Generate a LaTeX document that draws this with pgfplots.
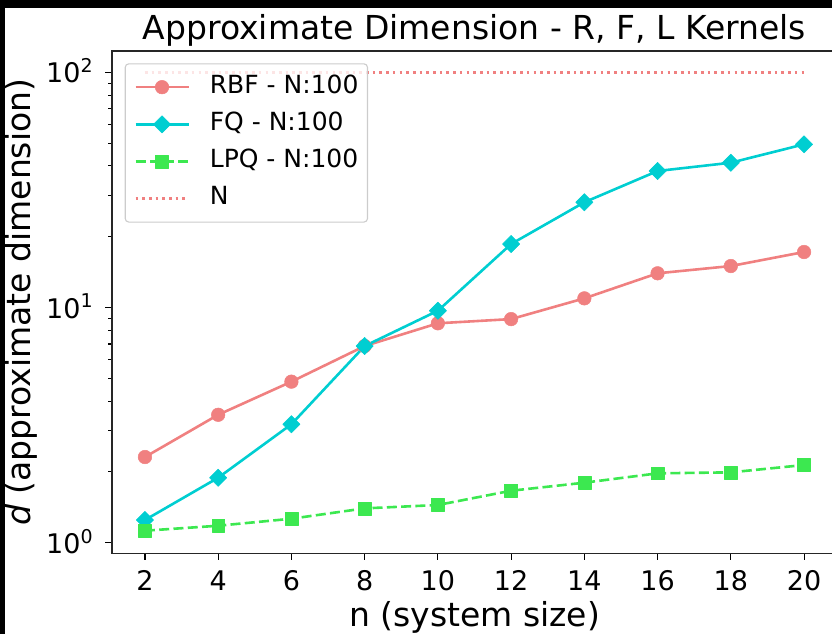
\documentclass[border=0pt]{standalone}
\usepackage{fontspec}
\setmainfont{DejaVu Sans}
\usepackage{pgfplots}
\pgfplotsset{compat=1.18}
\definecolor{rbfcol}{HTML}{F08080}
\definecolor{fqcol}{HTML}{00CED1}
\definecolor{lpqcol}{HTML}{3CE850}
\newcommand{\tenpow}[1]{10\raisebox{0.38em}{\fontsize{19bp}{19bp}\selectfont #1}}
\newcommand{\fs}[1]{\fontsize{#1}{1.2\dimexpr#1\relax}\selectfont}

\begin{document}
\begin{tikzpicture}
\useasboundingbox (-112bp,-80.5bp) rectangle (720bp,553.5bp);
\begin{axis}[
  scale only axis, width=725bp, height=502.5bp,
  ymode=log,
  xmin=1.1, xmax=20.9, ymin=0.9, ymax=123.2,
  xtick={2,4,6,8,10,12,14,16,18,20},
  xticklabels={2,4,6,8,10,12,14,16,18,20},
  ytick={1,10,100},
  yticklabels={\tenpow{0},\tenpow{1},\tenpow{2}},
  minor ytick={2,3,4,5,6,7,8,9,20,30,40,50,60,70,80,90},
  tick pos=left, tick align=outside,
  major tick length=6.5bp, minor tick length=3.7bp,
  every tick/.style={black, line width=1.1bp},
  axis line style={black!85, line width=1.2bp},
  tick label style={font=\fs{27bp}, inner sep=0pt},
  xticklabel style={anchor=base, yshift=-30.5bp},
  yticklabel style={anchor=base east, xshift=-12.7bp, yshift=-10.6bp},
  title={Approximate Dimension - R, F, L Kernels},
  every axis title shift=0pt,
  title style={font=\fs{33bp}, at={(0.5,1)}, anchor=base, yshift=11.7bp, inner sep=0pt},
  xlabel={n (system size)},
  every axis x label/.style={at={(axis description cs:0.5,0)}, anchor=base, yshift=-72.5bp, font=\fs{33bp}, inner sep=0pt},
  ylabel={{\itshape d} (approximate dimension)},
  every axis y label/.style={at={(axis description cs:-0.1131,0.5)}, rotate=90, anchor=base, font=\fs{33bp}, inner sep=0pt},
  legend style={at={(0.0175,0.9755)}, anchor=north west,
    draw=black!20, line width=1.1bp, rounded corners=3.5bp,
    fill=white, fill opacity=0.8, text opacity=1,
    font=\fs{25bp}, inner xsep=9bp, inner ysep=11.3bp,
    row sep=13.2bp, column sep=20bp,
    nodes={inner sep=0pt, text height=18.2bp, text depth=5.8bp}},
  legend cell align=left,
  legend image code/.code={\draw[mark repeat=2, mark phase=2, #1, line width=2.6bp,
      rounded corners=0pt, opacity=1, fill opacity=1, draw opacity=1]
    plot coordinates {(0bp,0bp) (26.5bp,0bp) (53bp,0bp)};},
  every axis plot/.append style={line width=2.6bp, line join=round},
]
\addplot[rbfcol, mark=*, mark size=6.8bp, mark options={solid, fill=rbfcol, line width=0.5bp}]
  coordinates {(2,2.314) (4,3.50) (6,4.84) (8,6.86) (10,8.57) (12,8.93) (14,10.94) (16,13.98) (18,15.01) (20,17.22)};
\addlegendentry{RBF - N:100}
\addplot[fqcol, mark=square*, mark size=6.1bp, mark options={solid, rotate=45, fill=fqcol, line width=0.5bp}]
  coordinates {(2,1.249) (4,1.89) (6,3.19) (8,6.86) (10,9.69) (12,18.62) (14,28.02) (16,38.06) (18,41.27) (20,49.42)};
\addlegendentry{FQ - N:100}
\addplot[lpqcol, dash pattern=on 10bp off 4.3bp, mark=square*, mark size=6.4bp, mark options={solid, fill=lpqcol, line width=0.5bp}]
  coordinates {(2,1.125) (4,1.181) (6,1.265) (8,1.40) (10,1.447) (12,1.664) (14,1.80) (16,1.973) (18,1.992) (20,2.14)};
\addlegendentry{LPQ - N:100}
\addplot[rbfcol, dash pattern=on 2.6bp off 4.1bp]
  coordinates {(2,100) (20,100)};
\addlegendentry{N}
\end{axis}
\fill[black] (-112bp,545bp) rectangle (720bp,553.5bp);
\fill[black] (-112bp,-80.5bp) rectangle (-107bp,553.5bp);
\end{tikzpicture}
\end{document}
